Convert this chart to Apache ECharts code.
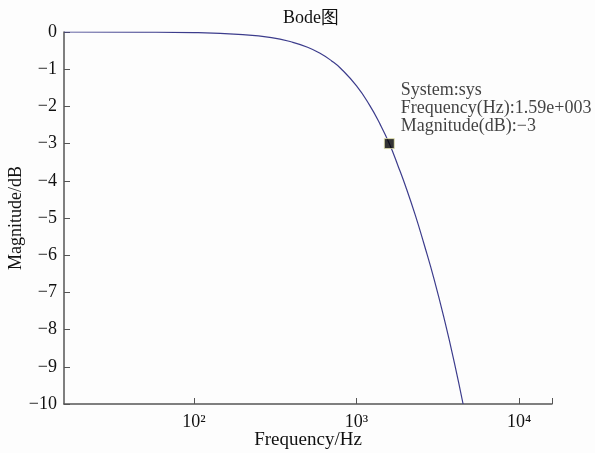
<!DOCTYPE html>
<html>
<head>
<meta charset="utf-8">
<script src="https://cdn.jsdelivr.net/npm/echarts@6/dist/echarts.min.js"></script>
<style>
html,body{margin:0;padding:0;background:#fdfdfd;}
#bode{width:595px;height:453px;}
</style>
</head>
<body>
<div id="bode"></div>
<script>
// values (Hz, dB)
var freqs = [15.9, 50, 100, 200, 300, 400, 500, 600, 700, 800, 1000, 1200, 1400, 1590, 1800, 2000, 2300, 2600, 3000, 3500, 4000, 4520];
var mags = [0, -0.004, -0.017, -0.07, -0.15, -0.27, -0.41, -0.58, -0.77, -0.98, -1.45, -1.96, -2.49, -3.0, -3.6, -4.14, -4.93, -5.7, -6.65, -7.8, -8.9, -10];
var xTicks = [100, 1000, 10000, 15915];
var xLabels = [100, 1000, 10000];
var markFreq = 1590;
var markMag = -3;
var markText = ['System:sys', 'Frequency(Hz):1.59e+003', 'Magnitude(dB):\u22123'];
var sup = {2: '\u00b2', 3: '\u00b3', 4: '\u2074'};

var lineData = [];
for (var i = 0; i < freqs.length; i++) {
    lineData.push([freqs[i], mags[i]]);
}

var font = 'Liberation Serif';
var dom = document.getElementById("bode");
var myChart = echarts.init(dom);
var option = {
    backgroundColor: '#fdfdfd',
    animation: false,
    title: {
        text: 'Bode图',
        left: 306,
        top: 4,
        textAlign: 'center',
        textStyle: {fontFamily: font, fontSize: 18, fontWeight: 'normal', color: '#111'}
    },
    grid: {left: 64, right: 43, top: 32, bottom: 49, outerBoundsMode: 'none', containLabel: false},
    xAxis: {
        type: 'log',
        logBase: 10,
        min: 15.9,
        max: 15915,
        position: 'bottom',
        name: 'Frequency/Hz',
        nameLocation: 'middle',
        nameGap: 27,
        nameMoveOverlap: false,
        nameTextStyle: {fontFamily: font, fontSize: 19, color: '#111'},
        axisLine: {onZero: false, lineStyle: {color: '#555', width: 1.5}},
        axisTick: {inside: true, length: 6, customValues: xTicks, lineStyle: {color: '#555', width: 1}},
        splitLine: {show: false},
        minorTick: {show: false},
        axisLabel: {
            fontFamily: font, fontSize: 18, color: '#111', margin: 9,
            customValues: xLabels,
            formatter: function (v) {
                var p = Math.round(Math.log(v) / Math.LN10);
                return '10' + sup[p];
            }
        }
    },
    yAxis: {
        type: 'value',
        min: -10,
        max: 0,
        interval: 1,
        name: 'Magnitude/dB',
        nameLocation: 'middle',
        nameGap: 39,
        nameMoveOverlap: false,
        nameTextStyle: {fontFamily: font, fontSize: 18, color: '#111'},
        axisLine: {show: true, lineStyle: {color: '#555', width: 1.5}},
        axisTick: {show: true, inside: true, length: 6, lineStyle: {color: '#555', width: 1}},
        splitLine: {show: false},
        axisLabel: {
            fontFamily: font, fontSize: 18, color: '#111', margin: 7,
            formatter: function (v) { return String(v).replace('-', '\u2212'); }
        }
    },
    series: [
        {
            type: 'line',
            data: lineData,
            showSymbol: false,
            smooth: true,
            clip: true,
            lineStyle: {color: '#3c3c8c', width: 1.2}
        },
        {
            type: 'scatter',
            data: [[markFreq, markMag]],
            symbol: 'rect',
            symbolSize: 10,
            itemStyle: {color: '#000', borderColor: '#e8e8b0', borderWidth: 1},
            label: {
                show: true,
                position: 'right',
                distance: 6,
                offset: [0, -35],
                align: 'left',
                fontFamily: font,
                fontSize: 18,
                lineHeight: 18,
                color: '#111',
                formatter: markText.join('\n')
            },
            z: 5
        }
    ]
};
myChart.setOption(option, true);
</script>
</body>
</html>
